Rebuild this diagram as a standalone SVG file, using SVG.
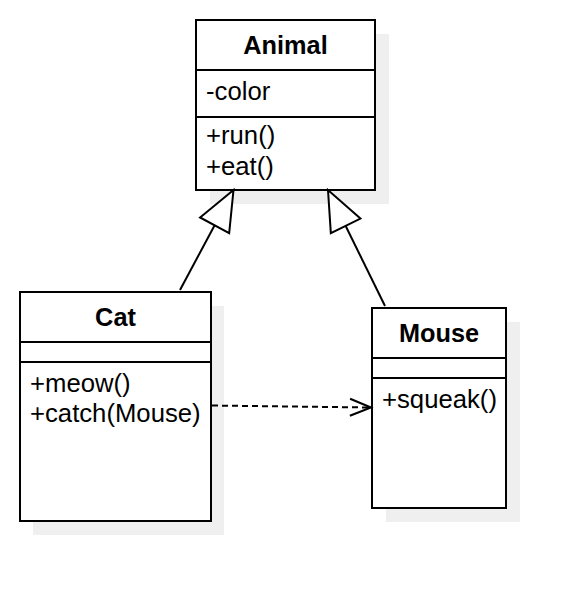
<svg xmlns="http://www.w3.org/2000/svg" width="586" height="602" viewBox="0 0 586 602">
<style>
.shadow{fill:#efefef;stroke:none}
.box{fill:#fff;stroke:#000;stroke-width:2}
.sep{stroke:#000;stroke-width:2;fill:none}
.title{font-family:"Liberation Sans",Arial,sans-serif;font-size:25.3px;font-weight:bold;text-anchor:middle;fill:#000}
.member{font-family:"Liberation Sans",Arial,sans-serif;font-size:25.7px;fill:#000}
.edge{stroke:#000;stroke-width:2;fill:none}
.dep{stroke-dasharray:6 4}
</style>
<defs>
<marker id="gen" markerUnits="userSpaceOnUse" markerWidth="44" markerHeight="40" viewBox="-42 -19 44 38" refX="0" refY="0" orient="auto" overflow="visible">
<path d="M0,0 L-40,-16.5 L-40,16.5 Z" fill="#fff" stroke="#000" stroke-width="2" stroke-linejoin="miter"/>
</marker>
<marker id="open" markerUnits="userSpaceOnUse" markerWidth="26" markerHeight="22" viewBox="-24 -11 26 22" refX="0" refY="0" orient="auto" overflow="visible">
<path d="M-21,-8.5 L0,0 L-21,8.5" fill="none" stroke="#000" stroke-width="2"/>
</marker>
</defs>
<g id="Animal">
<rect class="shadow" x="210" y="34" width="179" height="170"/>
<rect class="box" x="196" y="20" width="179" height="170"/>
<line class="sep" x1="196" y1="70" x2="375" y2="70"/>
<line class="sep" x1="196" y1="117" x2="375" y2="117"/>
<text class="title" x="285.5" y="54">Animal</text>
<text class="member" x="206" y="100">-color</text>
<text class="member" x="206" y="144">+run()</text>
<text class="member" x="206" y="175">+eat()</text>
</g>
<g id="Cat">
<rect class="shadow" x="33" y="306" width="191" height="229"/>
<rect class="box" x="20" y="292" width="191" height="229"/>
<line class="sep" x1="20" y1="342" x2="211" y2="342"/>
<line class="sep" x1="20" y1="362" x2="211" y2="362"/>
<text class="title" x="115.5" y="326">Cat</text>
<text class="member" x="30" y="392">+meow()</text>
<text class="member" x="30" y="422">+catch(Mouse)</text>
</g>
<g id="Mouse">
<rect class="shadow" x="386" y="322" width="134" height="200"/>
<rect class="box" x="372" y="308" width="134" height="200"/>
<line class="sep" x1="372" y1="358" x2="506" y2="358"/>
<line class="sep" x1="372" y1="378" x2="506" y2="378"/>
<text class="title" x="439" y="342">Mouse</text>
<text class="member" x="382" y="408">+squeak()</text>
</g>
<g id="connectors">
<path class="edge" d="M180,290 L233.5,190" marker-end="url(#gen)"/>
<path class="edge" d="M385,306 L328,190" marker-end="url(#gen)"/>
<path class="edge dep" d="M212,405.5 L371,407.5" marker-end="url(#open)"/>
</g>
</svg>
